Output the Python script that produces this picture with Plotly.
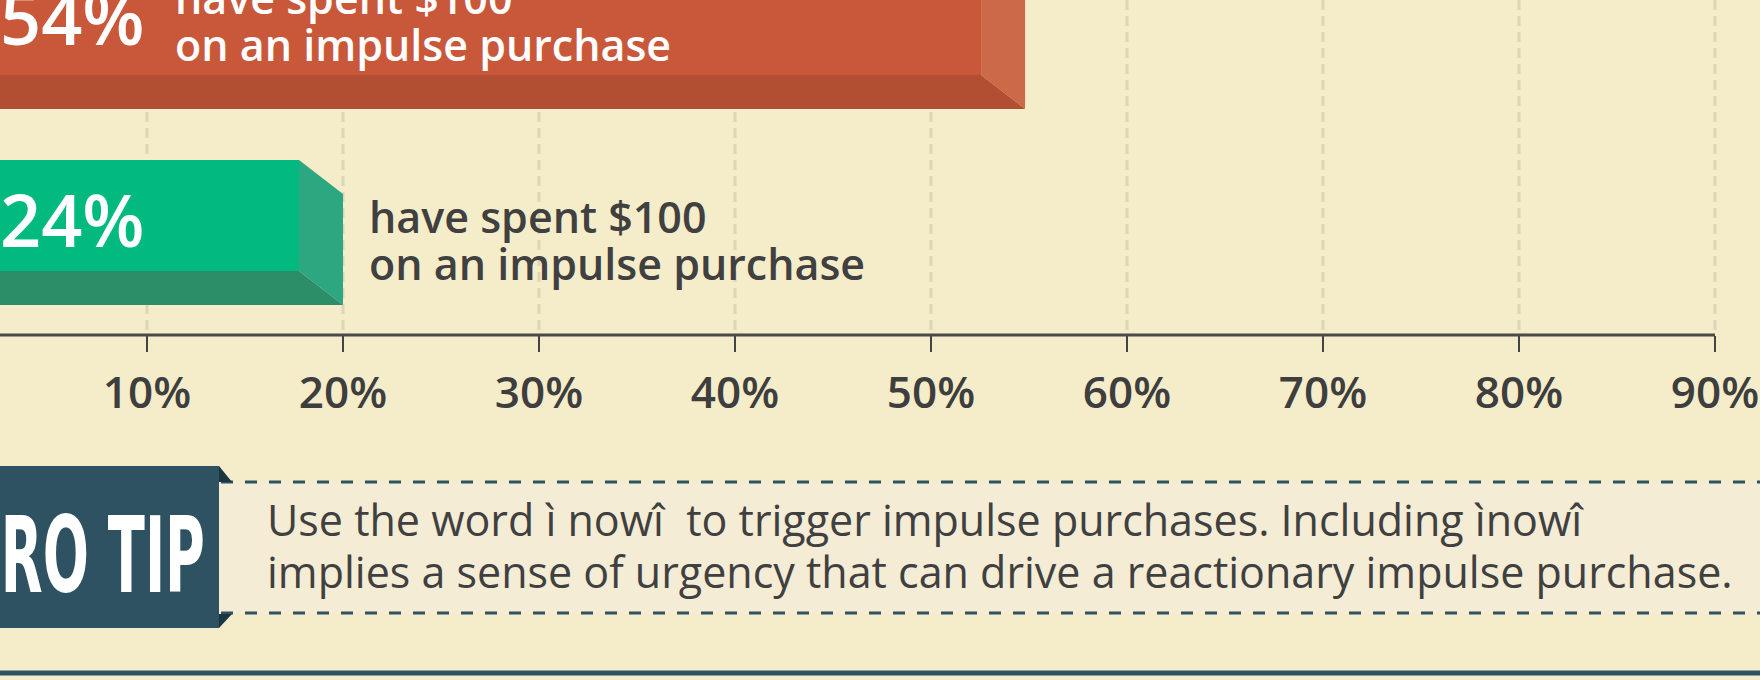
import plotly.graph_objects as go

# ---------------- data ----------------
bar_names = ["Group A", "Group B"]
bar_ends = [54.8, 20.0]
pct_labels = ["54%", "24%"]
bar_caption = ["have spent $100", "on an impulse purchase"]
tick_values = [10, 20, 30, 40, 50, 60, 70, 80, 90]
tick_labels = ["10%", "20%", "30%", "40%", "50%", "60%", "70%", "80%", "90%"]
tip_lines = ["Use the word ì nowî  to trigger impulse purchases. Including ìnowî",
             "implies a sense of urgency that can drive a reactionary impulse purchase."]
tip_title = "PRO TIP"

# ---------------- style ----------------
W, H = 1760, 680
BG = "#F5EDC9"
TEAL = "#2E5262"
DARK = "#404040"
FONT = "Open Sans, Lato, sans-serif"
face_cols = [("#C9583B", "#CB6948", "#B24F32"), ("#02BA7F", "#2CA77F", "#2B8E69")]
PX_PER_UNIT = 19.6
X0_PX = -49.0                      # pixel of 0 %
ROW_PX = 196.0
ROW0_PX = 19.5
x_range = [(0 - X0_PX) / PX_PER_UNIT, (W - X0_PX) / PX_PER_UNIT]
y_range = [(H - ROW0_PX) / ROW_PX, (0 - ROW0_PX) / ROW_PX]
half_h = 55.5 / ROW_PX
depth_x = 44 / PX_PER_UNIT
depth_y = 34 / ROW_PX
AXIS_PX = 335

def py(px):
    return 1 - px / H

def pxx(px):
    return px / W

fig = go.Figure()

for i, (end, cols) in enumerate(zip(bar_ends, face_cols)):
    front_end = end - depth_x
    xl = x_range[0] - 1
    top, bot = i - half_h, i + half_h
    fig.add_trace(go.Scatter(x=[xl, front_end, front_end, xl, xl], y=[top, top, bot, bot, top],
                             fill="toself", fillcolor=cols[0], mode="lines", line=dict(width=0),
                             hoverinfo="skip", showlegend=False, name=bar_names[i]))
    fig.add_trace(go.Scatter(x=[front_end, end, end, front_end, front_end],
                             y=[top, top + depth_y, bot + depth_y, bot, top],
                             fill="toself", fillcolor=cols[1], mode="lines", line=dict(width=0),
                             hoverinfo="skip", showlegend=False))
    fig.add_trace(go.Scatter(x=[xl, front_end, end, xl, xl],
                             y=[bot, bot, bot + depth_y, bot + depth_y, bot],
                             fill="toself", fillcolor=cols[2], mode="lines", line=dict(width=0),
                             hoverinfo="skip", showlegend=False))

shapes = []
for t in tick_values:
    shapes.append(dict(type="line", xref="x", yref="paper", x0=t, x1=t, y0=1, y1=py(AXIS_PX),
                       line=dict(color="#DCD5B6", width=3, dash="10px,6px"), layer="below"))
shapes.append(dict(type="line", xref="x", yref="paper", x0=x_range[0], x1=tick_values[-1],
                   y0=py(AXIS_PX), y1=py(AXIS_PX), line=dict(color="#4A4A4A", width=3)))
shapes.append(dict(type="rect", xref="paper", yref="paper", x0=pxx(219), x1=1, y0=py(482), y1=py(613),
                   fillcolor="#F4ECD5", line=dict(width=0), layer="below"))
for yy in (482, 613):
    shapes.append(dict(type="line", xref="paper", yref="paper", x0=pxx(221), x1=1, y0=py(yy), y1=py(yy),
                       line=dict(color=TEAL, width=3, dash="12px,12px")))
shapes.append(dict(type="rect", xref="paper", yref="paper", x0=0, x1=pxx(219), y0=py(466), y1=py(628),
                   fillcolor=TEAL, line=dict(width=0)))
shapes.append(dict(type="path", xref="paper", yref="paper",
                   path=f"M {pxx(219)} {py(466)} L {pxx(232)} {py(482)} L {pxx(219)} {py(482)} Z",
                   fillcolor="#1B3541", line=dict(width=0)))
shapes.append(dict(type="path", xref="paper", yref="paper",
                   path=f"M {pxx(219)} {py(614)} L {pxx(232)} {py(614)} L {pxx(219)} {py(628)} Z",
                   fillcolor="#1B3541", line=dict(width=0)))
shapes.append(dict(type="line", xref="paper", yref="paper", x0=0, x1=1, y0=py(673), y1=py(673),
                   line=dict(color=TEAL, width=5)))

ann = []
for i, lab in enumerate(pct_labels):
    base = [45, 247][i]
    ann.append(dict(text=lab, xref="paper", yref="paper", x=pxx(147), y=py(base - 28),
                    xanchor="right", yanchor="middle", showarrow=False,
                    font=dict(family=FONT, size=72, color="white", weight=600)))
cap_x = [173, 367]
cap_col = ["white", DARK]
cap_base = [[13, 61], [232, 280]]
for i in range(2):
    for j, line in enumerate(bar_caption):
        ann.append(dict(text=line, xref="paper", yref="paper", x=pxx(cap_x[i]), y=py(cap_base[i][j] - 16),
                        xanchor="left", yanchor="middle", showarrow=False,
                        font=dict(family=FONT, size=43, color=cap_col[i], weight=600)))
ann.append(dict(text=tip_title, xref="paper", yref="paper", x=pxx(207), y=py(555),
                xanchor="right", yanchor="middle", showarrow=False,
                font=dict(family="DejaVu Sans Condensed, DejaVu Sans, sans-serif",
                          size=106, color="white", weight="bold")))
for j, (line, base) in enumerate(zip(tip_lines, [535, 587])):
    ann.append(dict(text=line, xref="paper", yref="paper", x=pxx(265), y=py(base - 16),
                    xanchor="left", yanchor="middle", showarrow=False,
                    font=dict(family=FONT, size=43, color=DARK)))

fig.update_layout(
    width=W, height=H, margin=dict(l=0, r=0, t=0, b=0),
    paper_bgcolor=BG, plot_bgcolor=BG,
    shapes=shapes, annotations=ann, showlegend=False,
    xaxis=dict(range=x_range, tickmode="array", tickvals=tick_values, ticktext=tick_labels,
               showgrid=False, zeroline=False,
               showline=False, ticks="outside", ticklen=16, tickwidth=2, tickcolor="#444444",
               anchor="free", position=py(AXIS_PX), side="bottom", ticklabelstandoff=3,
               tickfont=dict(family=FONT, size=44, color="#3E3E3E", weight=600), fixedrange=True),
    yaxis=dict(range=y_range, visible=False, fixedrange=True),
)

post = """
document.body.style.margin='0';
var gd=document.getElementById('{plot_id}');
function squeeze(){
  gd.querySelectorAll('g.annotation text').forEach(function(t){
    if(t.textContent==='PRO TIP'){
      t.style.transformBox='fill-box';
      t.style.transformOrigin='right center';
      t.style.transform='scaleX(0.57)';
    }
  });
}
squeeze();
if(gd.on){gd.on('plotly_afterplot', squeeze);}
"""

fig.write_html("out.html", post_script=post, config={"displayModeBar": False})
